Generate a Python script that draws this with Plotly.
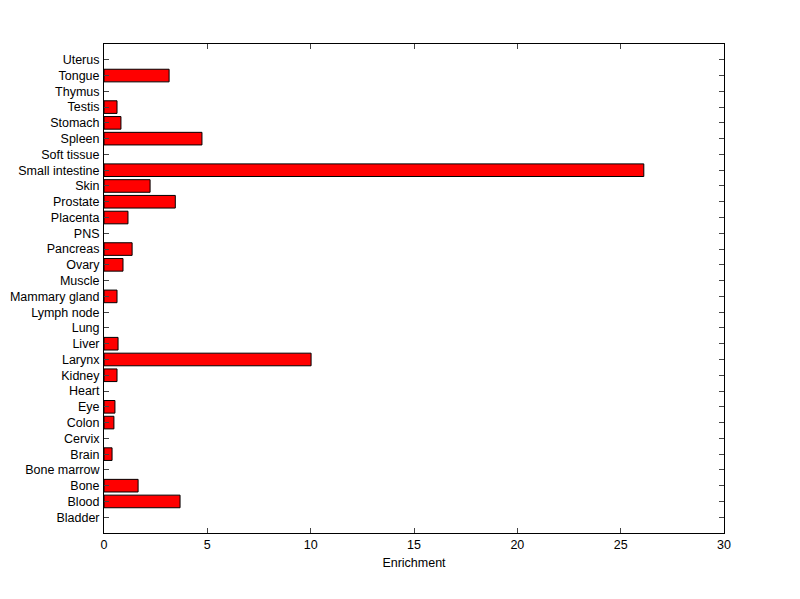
import plotly.graph_objects as go

tissues = ["Bladder", "Blood", "Bone", "Bone marrow", "Brain", "Cervix", "Colon", "Eye",
           "Heart", "Kidney", "Larynx", "Liver", "Lung", "Lymph node", "Mammary gland",
           "Muscle", "Ovary", "Pancreas", "PNS", "Placenta", "Prostate", "Skin",
           "Small intestine", "Soft tissue", "Spleen", "Stomach", "Testis", "Thymus",
           "Tongue", "Uterus"]
enrichment = [0, 3.68, 1.65, 0, 0.39, 0, 0.48, 0.53,
              0, 0.63, 10.02, 0.68, 0, 0, 0.63,
              0, 0.92, 1.36, 0, 1.16, 3.45, 2.23,
              26.12, 0, 4.74, 0.82, 0.63, 0,
              3.15, 0]
x_ticks = [0, 5, 10, 15, 20, 25, 30]

line_widths = [1 if v > 0 else 0 for v in enrichment]

fig = go.Figure(go.Bar(
    x=enrichment, y=tissues, orientation="h",
    marker=dict(color="#ff0000", line=dict(color="black", width=line_widths)),
    width=0.8,
))

font = dict(family="Liberation Sans, Arial, sans-serif", size=12.5, color="black")
fig.update_layout(
    width=800, height=599,
    margin=dict(l=96, r=84, t=36, b=74, autoexpand=False),
    paper_bgcolor="white", plot_bgcolor="white",
    font=font, showlegend=False,
    xaxis=dict(range=[0, 30], tickvals=x_ticks, ticks="inside", ticklen=5,
               showline=True, linecolor="black", linewidth=1, mirror="ticks",
               showgrid=False, zeroline=False, automargin=False,
               title=dict(text="Enrichment", standoff=7, font=font),
               tickfont=font),
    yaxis=dict(type="category", categoryorder="array", categoryarray=tissues,
               tickmode="array", tickvals=tissues, ticktext=tissues,
               range=[-1, len(tissues)], ticks="inside", ticklen=5,
               showline=True, linecolor="black", linewidth=1, mirror="ticks",
               showgrid=False, zeroline=False, automargin=False,
               ticklabelstandoff=1, tickfont=font),
)
fig.write_html("out.html")
